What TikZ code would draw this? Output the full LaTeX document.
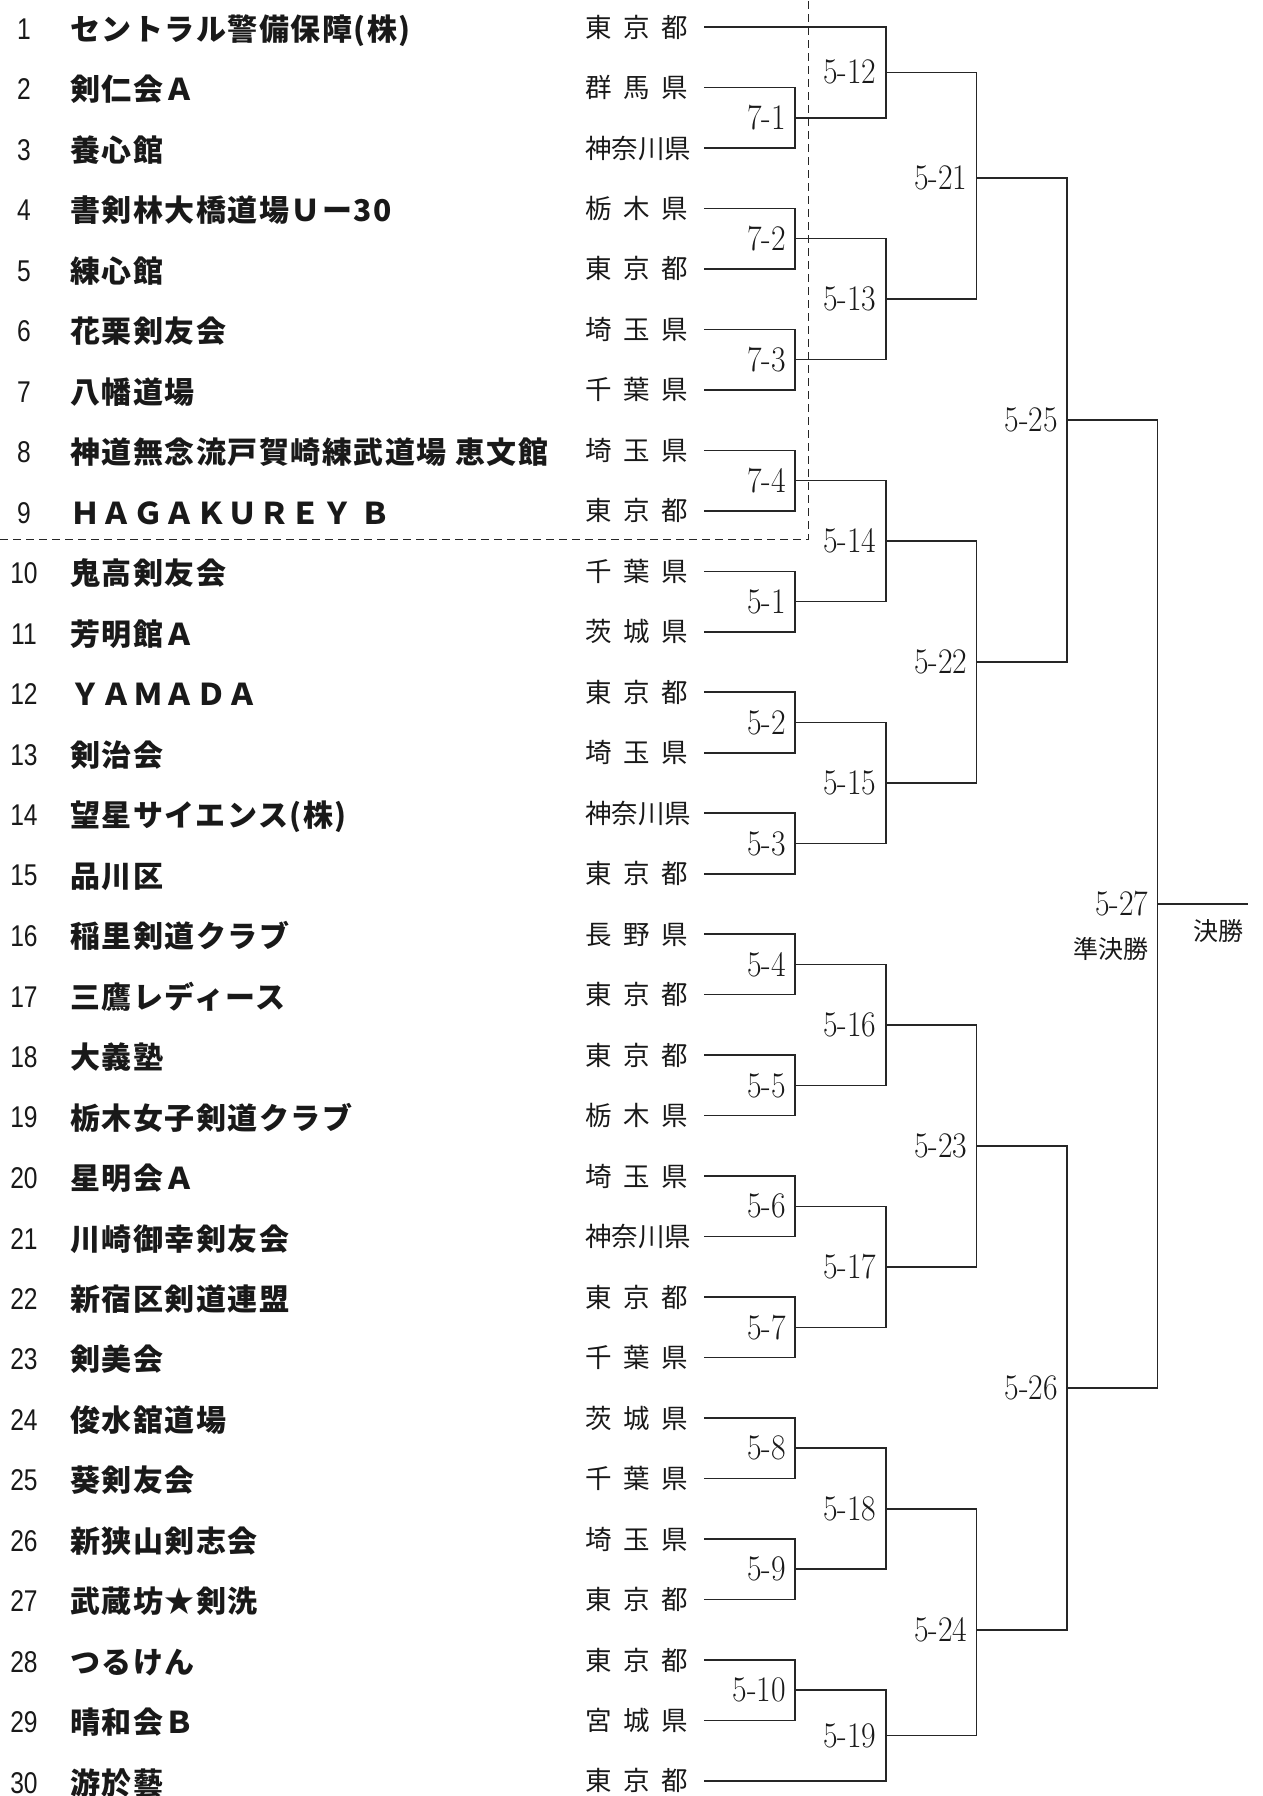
\documentclass[tikz,border=0pt]{standalone}
\usepackage{fontspec}
\usepackage{graphicx}
\usetikzlibrary{calc}
\newfontfamily\cjk{Noto Sans CJK JP}
\newfontfamily\teamfont{Noto Sans CJK JP}[LetterSpace=5]
\newfontfamily\numfont{Liberation Sans}
\newcommand\pthree[3]{\makebox[103pt][s]{#1\hfill#2\hfill#3}}
\newcommand\ry[1]{(27+60.48*((#1)-1))}
\newcommand\mlab[1]{\scalebox{0.88}[1]{#1}}
\begin{document}
\begin{tikzpicture}[x=1pt,y=-1pt,
  br/.style={line width=1.6pt, draw=black!85},
  dashln/.style={line width=1.5pt, draw=black!85, dash pattern=on 8pt off 5pt},
  lab/.style={anchor=east, inner sep=0pt, text=black!90, font=\fontsize{36}{36}\selectfont},
  num/.style={inner sep=0pt, text=black!90, font=\numfont\fontsize{30}{30}\selectfont},
  team/.style={anchor=west, inner sep=0pt, text=black!90, text height=26.4pt, text depth=3.6pt, font=\teamfont\bfseries\fontsize{30}{30}\selectfont},
  pref/.style={anchor=west, inner sep=0pt, text=black!90, text height=23.3pt, text depth=3.2pt, font=\cjk\fontsize{26.5}{26.5}\selectfont},
  small/.style={inner sep=0pt, text=black!90, text height=22.0pt, text depth=3.0pt, font=\cjk\fontsize{25}{25}\selectfont},
]
\fill[white] (0,0) rectangle (1262,1796);
\useasboundingbox (0,0) rectangle (1262,1796);

% rows
\foreach \i/\name/\pref in {
 1/セントラル警備保障(株)/\pthree{東}{京}{都},
 2/剣仁会Ａ/\pthree{群}{馬}{県},
 3/養心館/神奈川県,
 4/書剣林大橋道場Ｕー30/\pthree{栃}{木}{県},
 5/練心館/\pthree{東}{京}{都},
 6/花栗剣友会/\pthree{埼}{玉}{県},
 7/八幡道場/\pthree{千}{葉}{県},
 8/神道無念流戸賀崎練武道場 恵文館/\pthree{埼}{玉}{県},
 9/ＨＡＧＡＫＵＲＥＹ Ｂ/\pthree{東}{京}{都},
 10/鬼高剣友会/\pthree{千}{葉}{県},
 11/芳明館Ａ/\pthree{茨}{城}{県},
 12/ＹＡＭＡＤＡ/\pthree{東}{京}{都},
 13/剣治会/\pthree{埼}{玉}{県},
 14/望星サイエンス(株)/神奈川県,
 15/品川区/\pthree{東}{京}{都},
 16/稲里剣道クラブ/\pthree{長}{野}{県},
 17/三鷹レディース/\pthree{東}{京}{都},
 18/大義塾/\pthree{東}{京}{都},
 19/栃木女子剣道クラブ/\pthree{栃}{木}{県},
 20/星明会Ａ/\pthree{埼}{玉}{県},
 21/川崎御幸剣友会/神奈川県,
 22/新宿区剣道連盟/\pthree{東}{京}{都},
 23/剣美会/\pthree{千}{葉}{県},
 24/俊水舘道場/\pthree{茨}{城}{県},
 25/葵剣友会/\pthree{千}{葉}{県},
 26/新狭山剣志会/\pthree{埼}{玉}{県},
 27/武蔵坊★剣洗/\pthree{東}{京}{都},
 28/つるけん/\pthree{東}{京}{都},
 29/晴和会Ｂ/\pthree{宮}{城}{県},
 30/游於藝/\pthree{東}{京}{都}} {
  \node[num] (n\i) at (24,{\ry{\i}+2}) {\scalebox{0.82}[1]{\i}};
  \node[team] (team\i) at (70,{\ry{\i}+2}) {\name};
  \node[pref] (p\i) at (585,{\ry{\i}}) {\pref};
  \coordinate (t\i) at (704,{\ry{\i}});
}

% dashed boundary
\coordinate (dA) at (0,539.3);
\coordinate (dB) at (808.3,539.3);
\coordinate (dC) at (808.3,0);
\draw[dashln] (dA) -- (dB) -- (dC);

% round 1 (x = 795)
\foreach \m/\a/\b/\lbl in {71/2/3/7-1, 72/4/5/7-2, 73/6/7/7-3, 74/8/9/7-4,
  51/10/11/5-1, 52/12/13/5-2, 53/14/15/5-3, 54/16/17/5-4, 55/18/19/5-5,
  56/20/21/5-6, 57/22/23/5-7, 58/24/25/5-8, 59/26/27/5-9, 510/28/29/5-10} {
  \coordinate (m\m) at (795,{\ry{(\a+\b)/2}});
  \draw[br] (t\a) -| (m\m) |- (t\b);
  \node[lab] (l\m) at (786,{\ry{(\a+\b)/2}}) {\mlab{\lbl}};
}

% round 2 (x = 885.7)
\foreach \m/\a/\b/\r/\lbl in {512/t1/m71/1.75/5-12, 513/m72/m73/5.5/5-13,
  514/m74/m51/9.5/5-14, 515/m52/m53/13.5/5-15, 516/m54/m55/17.5/5-16,
  517/m56/m57/21.5/5-17, 518/m58/m59/25.5/5-18, 519/m510/t30/29.25/5-19} {
  \coordinate (m\m) at (885.7,{\ry{\r}});
  \draw[br] (\a) -| (m\m) |- (\b);
  \node[lab] (l\m) at (876.7,{\ry{\r}}) {\mlab{\lbl}};
}

% round 3 (x = 976.4)
\foreach \m/\a/\b/\r/\lbl in {521/m512/m513/3.5/5-21, 522/m514/m515/11.5/5-22,
  523/m516/m517/19.5/5-23, 524/m518/m519/27.5/5-24} {
  \coordinate (m\m) at (976.4,{\ry{\r}});
  \draw[br] (\a) -| (m\m) |- (\b);
  \node[lab] (l\m) at (967.4,{\ry{\r}}) {\mlab{\lbl}};
}

% round 4 (x = 1067)
\foreach \m/\a/\b/\r/\lbl in {525/m521/m522/7.5/5-25, 526/m523/m524/23.5/5-26} {
  \coordinate (m\m) at (1067,{\ry{\r}});
  \draw[br] (\a) -| (m\m) |- (\b);
  \node[lab] (l\m) at (1058,{\ry{\r}}) {\mlab{\lbl}};
}

% semifinal / final
\coordinate (m527) at (1157.5,{\ry{15.5}});
\coordinate (fin) at (1248,{\ry{15.5}});
\draw[br] (m525) -| (m527) |- (m526);
\draw[br] (m527) -- (fin);
\node[lab] (l527) at (1148.5,{\ry{15.5}}) {\mlab{5-27}};
\node[small, anchor=east] (semi) at (1148.5,949) {準決勝};
\node[small, anchor=west] (final) at (1193,931) {決勝};
\end{tikzpicture}
\end{document}
